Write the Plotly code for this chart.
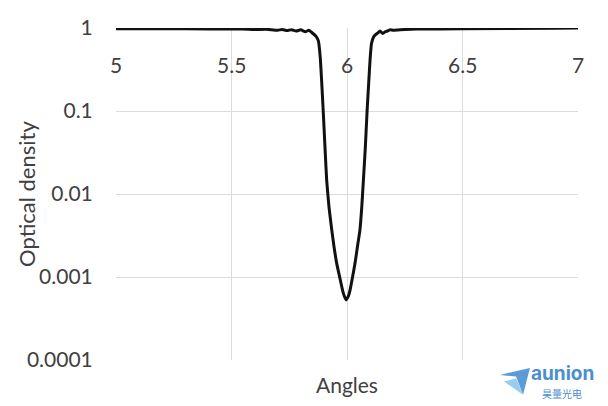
import plotly.graph_objects as go

angles = [5.0, 5.2, 5.4, 5.55, 5.60, 5.65, 5.70, 5.72, 5.74, 5.76, 5.78, 5.80, 5.82, 5.835, 5.85,
          5.861, 5.868, 5.876, 5.884, 5.890, 5.897, 5.905, 5.912, 5.922, 5.934, 5.944, 5.955,
          5.97, 5.984, 5.996, 6.005, 6.013, 6.024, 6.035, 6.045, 6.056, 6.064, 6.071, 6.079,
          6.087, 6.094, 6.100, 6.106, 6.115, 6.125, 6.135, 6.143, 6.155, 6.165, 6.175, 6.186, 6.2,
          6.25, 6.3, 6.5, 6.9, 7.0]
optical_density = [0.98, 0.98, 0.975, 0.97, 0.96, 0.965, 0.94, 0.96, 0.93, 0.955, 0.92, 0.95, 0.90, 0.94, 0.87,
                   0.82, 0.78, 0.70, 0.45, 0.236, 0.1, 0.035, 0.0147, 0.007, 0.0037, 0.0023, 0.00148,
                   0.00095, 0.00064, 0.00053, 0.00058, 0.00069, 0.001, 0.00148, 0.0023, 0.0037, 0.007, 0.0147, 0.035,
                   0.1, 0.22, 0.42, 0.65, 0.78, 0.84, 0.88, 0.92, 0.86, 0.90, 0.92, 0.95, 0.94,
                   0.96, 0.97, 0.98, 0.99, 1.0]

y_tickvals = [1, 0.1, 0.01, 0.001, 0.0001]
y_ticktext = ["1", "0.1", "0.01", "0.001", "0.0001"]
x_tickvals = [5, 5.5, 6, 6.5, 7]
x_ticktext = ["5", "5.5", "6", "6.5", "7"]

font_family = "Lato, 'Open Sans', sans-serif"
tick_color = "#404040"
fsize = 21

fig = go.Figure()
fig.add_trace(go.Scatter(x=angles, y=optical_density, mode="lines",
                         line=dict(color="#111111", width=3, shape="spline", smoothing=0.5),
                         showlegend=False, cliponaxis=False))

fig.update_layout(
    width=600, height=398,
    margin=dict(l=108, r=30, t=20, b=46, autoexpand=False),
    paper_bgcolor="white", plot_bgcolor="white",
    font=dict(family=font_family, color=tick_color, size=fsize),
    xaxis=dict(range=[5, 7], tickvals=x_tickvals, showticklabels=False,
               showgrid=True, gridcolor="#dcdcdc", automargin=False,
               gridwidth=1, zeroline=False, showline=False, ticks=""),
    yaxis=dict(type="log", range=[-4, 0.0001], tickvals=y_tickvals, ticktext=y_ticktext,
               showgrid=True, gridcolor="#dcdcdc", gridwidth=1, zeroline=False, automargin=False,
               showline=False, ticks="outside", ticklen=18, tickcolor="rgba(0,0,0,0)",
               tickfont=dict(size=fsize, color=tick_color)),
)

# x tick labels shown just below the top (Excel-style axis crossing at 1)
for xv, xt in zip(x_tickvals, x_ticktext):
    fig.add_annotation(x=xv, y=0.889, xref="x", yref="paper", text=xt, showarrow=False,
                       font=dict(size=fsize, color=tick_color), yanchor="middle")

fig.add_annotation(x=0.5, y=-0.075, xref="paper", yref="paper", text="Angles", showarrow=False,
                   font=dict(size=fsize, color=tick_color), yanchor="middle")
fig.add_annotation(x=-0.195, y=0.5, xref="paper", yref="paper", text="Optical density", showarrow=False,
                   textangle=-90, font=dict(size=22, color=tick_color), xanchor="center", yanchor="middle")

# watermark
fig.add_shape(type="path", xref="paper", yref="paper",
              path="M 0.831 -0.045 L 0.896 -0.024 L 0.881 -0.105 L 0.866 -0.05 Z",
              fillcolor="#4a90d0", line=dict(width=0), opacity=0.9)
fig.add_shape(type="path", xref="paper", yref="paper",
              path="M 0.840 -0.065 L 0.866 -0.055 L 0.881 -0.105 Z",
              fillcolor="#8cc8ee", line=dict(width=0), opacity=0.9)
fig.add_annotation(x=1.04, y=-0.04, xref="paper", yref="paper", text="<b>aunion</b>", showarrow=False,
                   font=dict(size=19, color="#4a8fd0", family="Inter, sans-serif"), xanchor="right", yanchor="middle")
fig.add_annotation(x=0.965, y=-0.102, xref="paper", yref="paper", text="昊量光电", showarrow=False,
                   font=dict(size=10, color="#4a8fd0", family="Noto Sans CJK SC"), xanchor="center", yanchor="middle")

fig.write_html("out.html")
